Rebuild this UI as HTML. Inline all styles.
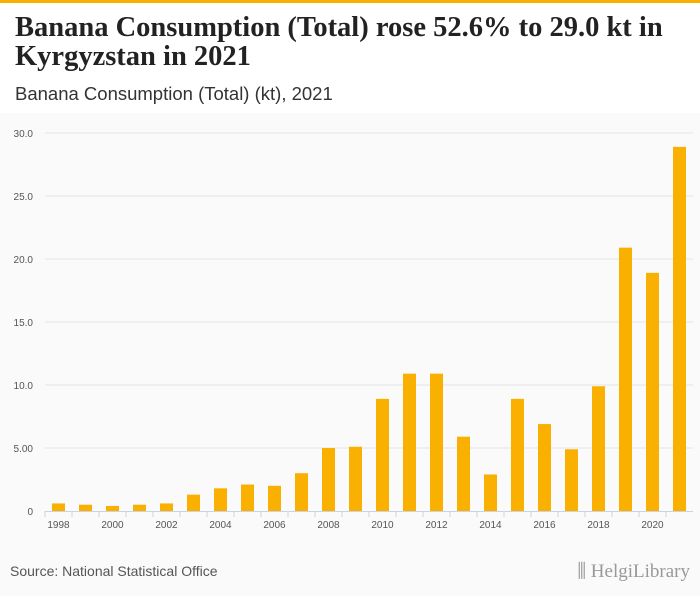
<!DOCTYPE html>
<html><head><meta charset="utf-8"><style>
body{margin:0;width:700px;height:596px;background:#fafafa;font-family:"Liberation Sans",sans-serif;overflow:hidden;position:relative}
#hdr{position:absolute;left:0;top:0;width:700px;height:113px;background:#fff;border-top:3px solid #f9b000;box-sizing:border-box}
h1{position:absolute;left:15px;top:10px;margin:0;font-family:"Liberation Serif",serif;font-weight:bold;font-size:28.5px;line-height:29px;color:#222;width:685px}
#sub{position:absolute;left:15px;top:80px;font-size:18.5px;color:#333}
#src{position:absolute;left:10px;top:563px;font-size:14px;color:#555}
#logo{position:absolute;right:10px;top:561px;font-size:19px;color:#999;font-family:"Liberation Serif",serif}
</style></head><body>
<div id="hdr">
<h1>Banana Consumption (Total) rose 52.6% to 29.0 kt in Kyrgyzstan in 2021</h1>
<div id="sub">Banana Consumption (Total) (kt), 2021</div>
</div>
<svg id="chart" width="700" height="596" style="position:absolute;left:0;top:0"></svg>
<div id="src">Source: National Statistical Office</div>
<div id="logo">⫼ HelgiLibrary</div>
<script>
const years=[1998,1999,2000,2001,2002,2003,2004,2005,2006,2007,2008,2009,2010,2011,2012,2013,2014,2015,2016,2017,2018,2019,2020,2021];
const values=[0.6,0.5,0.4,0.5,0.6,1.3,1.8,2.1,2.0,3.0,5.0,5.1,8.9,10.9,10.9,5.9,2.9,8.9,6.9,4.9,9.9,20.9,18.9,28.9];
const yTicks=[0,5,10,15,20,25,30];
const yTickLabels=["0","5.00","10.0","15.0","20.0","25.0","30.0"];
const svg=document.getElementById('chart'),NS='http://www.w3.org/2000/svg';
const x0=45,x1=693,yB=511,yT=133,yMax=30;
const step=(x1-x0)/years.length;
const y=v=>yB-(v/yMax)*(yB-yT);
const xc=i=>x0+step*(i+0.5);
function mk(t,a){const e=document.createElementNS(NS,t);for(const k in a)e.setAttribute(k,a[k]);svg.appendChild(e);return e;}
yTicks.forEach((t,i)=>{
 if(t>0){const g=mk('line',{x1:x0,x2:x1,y1:y(t),y2:y(t),stroke:'#e4e4e4','stroke-width':1});
 
 }
 const l=mk('text',{x:33,y:y(t)+4,'text-anchor':'end','font-size':10,fill:'#555','font-family':'Liberation Sans, sans-serif'});
 l.textContent=yTickLabels[i];
 
 
});
years.forEach((yr,i)=>{
 const b=mk('rect',{x:xc(i)-6.5,y:y(values[i]),width:13,height:yB-y(values[i]),fill:'#f9b000'});
 
 
 const tk=mk('line',{x1:x0+step*i,x2:x0+step*i,y1:yB,y2:yB+6,stroke:'#c8d4e6'});
 
 
 if(i%2===0){const l=mk('text',{x:xc(i),y:yB+17,'text-anchor':'middle','font-size':10,fill:'#555','font-family':'Liberation Sans, sans-serif'});
 l.textContent=yr;
 
 }
});
const ax=mk('line',{x1:x0,x2:x1,y1:yB+0.5,y2:yB+0.5,stroke:'#c8d4e6'});


</script>
</body></html>
